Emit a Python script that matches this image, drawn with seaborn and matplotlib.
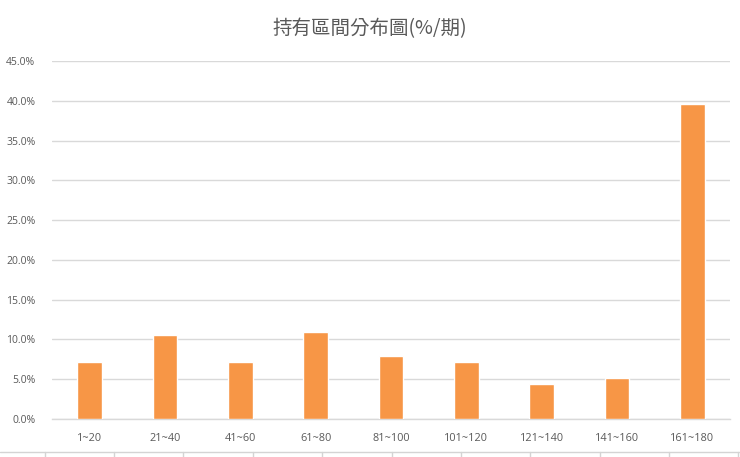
import matplotlib.pyplot as plt
import numpy as np
import pandas as pd
import seaborn as sns
from matplotlib.lines import Line2D
from matplotlib.ticker import PercentFormatter

# 持有區間分布 (%/期)
intervals = ["1~20", "21~40", "41~60", "61~80", "81~100",
             "101~120", "121~140", "141~160", "161~180"]
share_pct = [7.1, 10.6, 7.1, 10.9, 7.9, 7.1, 4.4, 5.2, 39.6]

title_text = "持有區間分布圖(%/期)"
bar_color = "#F79646"
text_color = "#595959"
grid_color = "#D9D9D9"

sns.set_theme(style="white")
plt.rcParams['font.family'] = ['Noto Sans CJK TC', 'DejaVu Sans']
plt.rcParams['axes.unicode_minus'] = False

df = pd.DataFrame({"區間": intervals, "比例": share_pct})

fig = plt.figure(figsize=(7.4, 4.57), dpi=100)
ax = fig.add_axes([0.0703, 0.0832, 0.9162, 0.7833])

sns.barplot(data=df, x="區間", y="比例", color=bar_color, width=0.33,
            saturation=1, ax=ax, zorder=3)

ax.set_ylim(0, 45)
ax.set_yticks(np.arange(0, 45.1, 5))
ax.yaxis.set_major_formatter(PercentFormatter(decimals=1))
ax.set_xlim(-0.5, len(intervals) - 0.5)
ax.grid(axis="y", color=grid_color, linewidth=1, zorder=0)
ax.set_axisbelow(True)
for side in ["top", "right", "left"]:
    ax.spines[side].set_visible(False)
ax.spines["bottom"].set_color(grid_color)
ax.spines["bottom"].set_linewidth(1)
ax.set_xlabel("")
ax.set_ylabel("")
ax.tick_params(axis="both", length=0, colors=text_color)
ax.tick_params(axis="y", pad=12)
ax.tick_params(axis="x", pad=10)
for lab in ax.get_yticklabels():
    lab.set_fontfamily("Open Sans")
    lab.set_fontsize(7.5)
for lab in ax.get_xticklabels():
    lab.set_fontfamily("Open Sans")
    lab.set_fontsize(7.8)

fig.text(0.5, 0.938, title_text, ha="center", va="center",
         fontsize=14, color=text_color, fontweight="light")

# 工作表儲存格框線
y_cell = 1 - 452 / 457
fig.add_artist(Line2D([0, 1], [y_cell, y_cell], color="#D4D4D4",
                      linewidth=1, transform=fig.transFigure))
for px in [45, 114, 183, 253, 322, 392, 461, 530, 600, 669, 738]:
    fig.add_artist(Line2D([px / 740, px / 740], [0, y_cell], color="#D4D4D4",
                          linewidth=1, transform=fig.transFigure))

fig.savefig("out.png", dpi=100)
